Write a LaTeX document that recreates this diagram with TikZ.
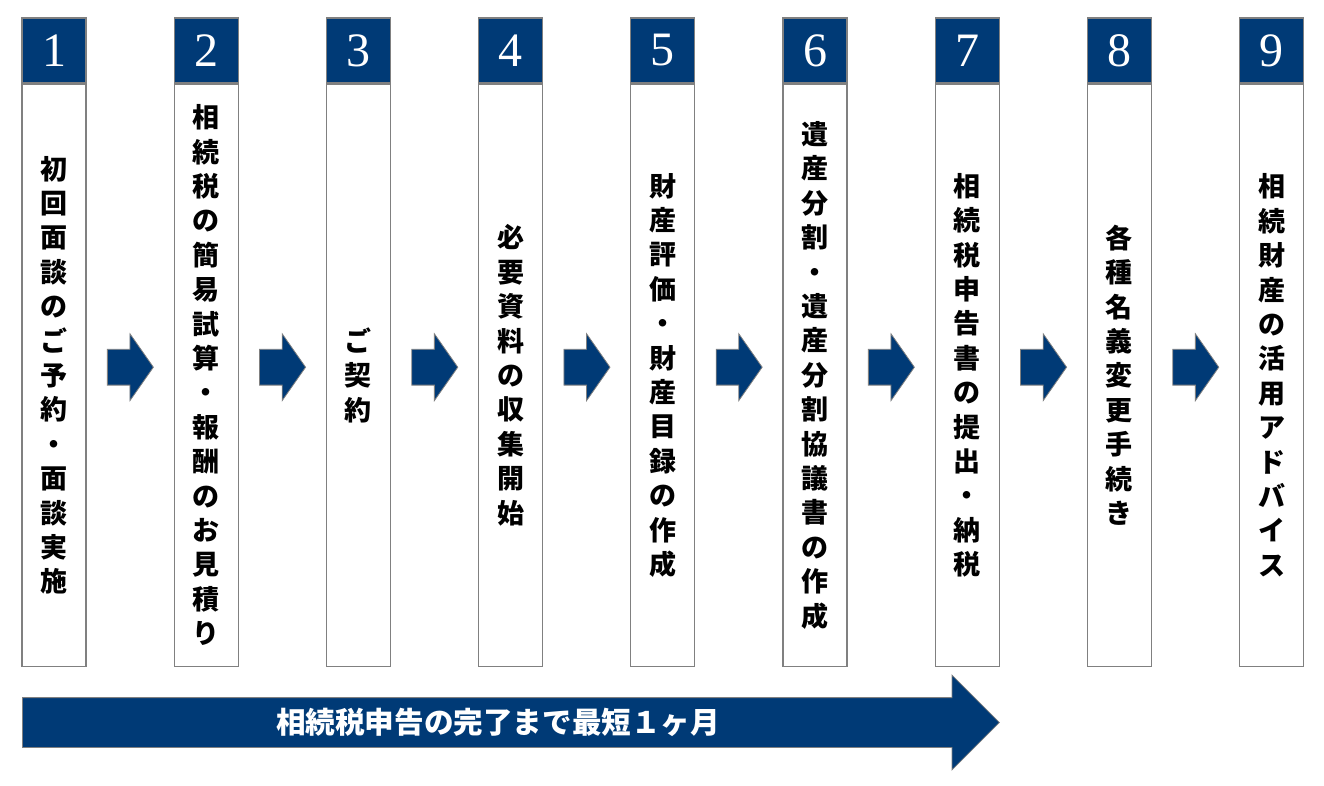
\documentclass[tikz,border=0pt]{standalone}
\usepackage{fontspec}
\setmainfont{Liberation Serif}
\newfontfamily\jpfont{Noto Sans CJK JP}
\usetikzlibrary{calc, positioning, shapes.arrows}
\definecolor{navy}{RGB}{0,58,118}
\definecolor{framegray}{RGB}{128,128,128}

\begin{document}
\begin{tikzpicture}[x=1pt, y=-1pt,
  numbox/.style={draw=framegray, fill=navy, line width=1.2pt, minimum width=64pt,
                 minimum height=65pt, inner sep=0pt, text=white,
                 font=\fontsize{48}{48}\selectfont},
  stepbody/.style={draw=framegray, fill=white, line width=1.2pt, minimum width=64pt,
                   minimum height=582pt, inner sep=0pt},
  tate/.style={align=center, inner sep=0pt,
               font=\jpfont\bfseries\fontsize{27}{34.4}\selectfont},
  smallarrow/.style={single arrow, draw=framegray, fill=navy, line width=0.8pt,
                     inner xsep=0pt, inner ysep=17.5pt, minimum height=46pt,
                     single arrow head extend=15.5pt, single arrow tip angle=110},
  longarrow/.style={single arrow, draw=framegray, fill=navy, line width=0.8pt,
                    inner xsep=0pt, inner ysep=24.5pt, minimum height=977pt,
                    single arrow head extend=22.5pt, single arrow tip angle=90}
]
\useasboundingbox (0,0) rectangle (1324,786);
% steps
\foreach \i/\txt in {
  1/{初\\回\\面\\談\\の\\ご\\予\\約\\・\\面\\談\\実\\施},
  2/{相\\続\\税\\の\\簡\\易\\試\\算\\・\\報\\酬\\の\\お\\見\\積\\り},
  3/{ご\\契\\約},
  4/{必\\要\\資\\料\\の\\収\\集\\開\\始},
  5/{財\\産\\評\\価\\・\\財\\産\\目\\録\\の\\作\\成},
  6/{遺\\産\\分\\割\\・\\遺\\産\\分\\割\\協\\議\\書\\の\\作\\成},
  7/{相\\続\\税\\申\\告\\書\\の\\提\\出\\・\\納\\税},
  8/{各\\種\\名\\義\\変\\更\\手\\続\\き},
  9/{相\\続\\財\\産\\の\\活\\用\\ア\\ド\\バ\\イ\\ス}}{
  \node[numbox] (num\i) at ({54+152.2*(\i-1)},50.5) {\i};
  \node[stepbody, below=0pt of num\i] (body\i) {};
  \node[tate] (txt\i) at (body\i.center) {\txt};
}
% arrows between steps
\foreach \i [evaluate=\i as \j using int(\i+1)] in {1,...,8}
  \node[smallarrow, xshift=-6pt, yshift=8pt] (arr\i)
    at ($(body\i.east)!0.5!(body\j.west)$) {};
% overall period
\node[longarrow, anchor=tail] (period) at (22,722.5) {};
\node[text=white, font=\jpfont\bfseries\fontsize{29.6}{29.6}\selectfont]
  (periodtxt) at (498,722.5) {相続税申告の完了まで最短１ヶ月};
\end{tikzpicture}
\end{document}
